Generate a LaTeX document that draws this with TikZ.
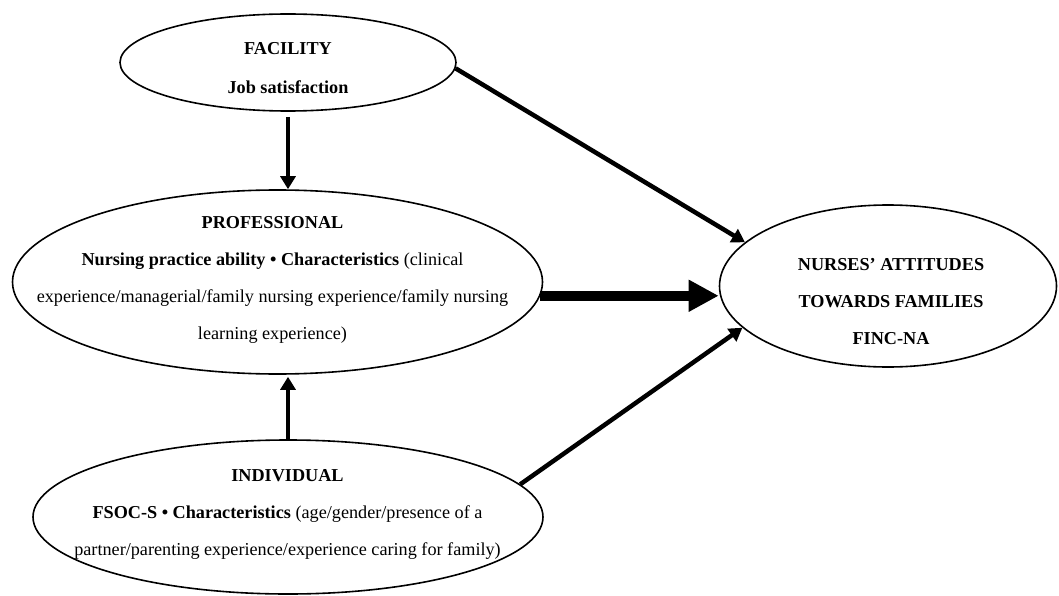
\documentclass[tikz,border=0pt]{standalone}
\usepackage{fontspec}
\setmainfont{Liberation Serif}
\usepackage{tikz}
\usetikzlibrary{
  arrows.meta,
  calc,
  positioning,
  shapes.geometric}

\begin{document}
\begin{tikzpicture}[x=1pt,y=-1pt,
    oval/.style={draw, ellipse, line width=1.6pt, inner sep=0pt},
    lbl/.style={align=center, font=\fontsize{18.2}{37}\selectfont},
    arr/.style={-{Triangle[length=13pt,width=15pt]}, line width=4.5pt},
    bigarr/.style={-{Triangle[length=30pt,width=30pt]}, line width=10pt}]
        \useasboundingbox (0,0) rectangle (1059,596);
        \node[oval, minimum width=336pt, minimum height=97pt] (fac) at (288,62.5) {};
        \node[oval, minimum width=530pt, minimum height=184pt] (pro) at (277.5,282) {};
        \node[oval, minimum width=510pt, minimum height=154pt] (ind) at (288,517) {};
        \node[oval, minimum width=337pt, minimum height=162pt] (att) at (888,286) {};
        \node[lbl, font=\fontsize{18.2}{39}\selectfont] (factxt) at (288,68.5) {\textbf{FACILITY}\\\textbf{Job satisfaction}};
        \node[lbl] (protxt) at (272.5,280) {\textbf{PROFESSIONAL}\\\textbf{Nursing practice ability • Characteristics} (clinical\\experience/managerial/family nursing experience/family nursing\\learning experience)};
        \node[lbl] (indtxt) at (287.5,514) {\textbf{INDIVIDUAL}\\\textbf{FSOC-S • Characteristics} (age/gender/presence of a\\partner/parenting experience/experience caring for family)};
        \node[lbl] (atttxt) at (891,302) {\textbf{NURSES' ATTITUDES}\\\textbf{TOWARDS FAMILIES}\\\textbf{FINC-NA}};
        \draw[arr] (fac.-2) -- (att.163);
        \draw[arr, shorten <=5pt] (fac.south) -- (fac.south |- pro.north);
        \draw[bigarr] (pro.-3) -- (pro.-3 -| att.west);
        \draw[arr, shorten >=2pt] (ind.north) -- (ind.north |- pro.south);
        \draw[arr] (ind.8) -- (att.196);
    \end{tikzpicture}
\end{document}
